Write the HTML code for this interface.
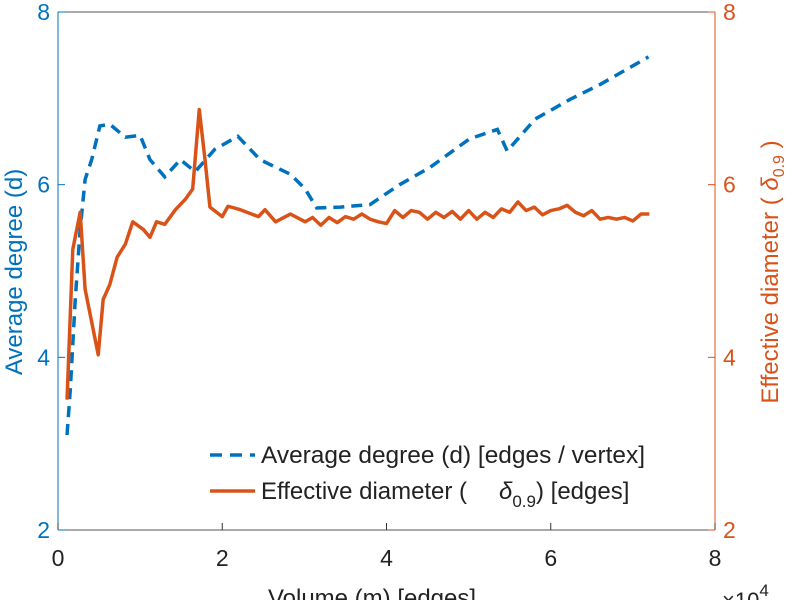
<!DOCTYPE html>
<html><head><meta charset="utf-8"><style>
body{margin:0;background:#fff;}
svg text{font-family:"Liberation Sans",sans-serif;}
</style></head><body>
<svg id="chart" width="795" height="600" xmlns="http://www.w3.org/2000/svg">
<g id="axes"></g>
<g id="series"></g>
<g>
 <line x1="210" y1="455" x2="255" y2="455" stroke="#0072BD" stroke-width="3.5" stroke-dasharray="12,8"/>
 <text x="261" y="463" font-size="24" textLength="384" lengthAdjust="spacingAndGlyphs" fill="#222">Average degree (d) [edges / vertex]</text>
 <line x1="210" y1="491" x2="255" y2="491" stroke="#D95319" stroke-width="3.5"/>
 <text x="261" y="499" font-size="24" textLength="206" lengthAdjust="spacingAndGlyphs" fill="#222">Effective diameter (</text>
 <text x="499" y="499" font-size="24" fill="#222" font-style="italic">δ<tspan font-size="17" font-style="normal" dy="8">0.9</tspan><tspan font-style="normal" dy="-8">) [edges]</tspan></text>
</g>
<text x="372" y="606" font-size="24" fill="#222" text-anchor="middle">Volume (m) [edges]</text>
<text x="722" y="608" font-size="22" fill="#222">×10<tspan font-size="17" dy="-12">4</tspan></text>
<text transform="translate(22,272) rotate(-90)" font-size="24" fill="#0072BD" text-anchor="middle">Average degree (d)</text>
<text transform="translate(778,272) rotate(-90)" font-size="24" fill="#D95319" text-anchor="middle">Effective diameter (     <tspan font-style="italic">δ</tspan><tspan font-size="16" dy="6">0.9</tspan><tspan dy="-6"> )</tspan></text>
</svg>
<script>
const xTicks=[0,2,4,6,8];
const yTicks=[2,4,6,8];
const degX=[0.11,0.15,0.21,0.27,0.33,0.41,0.51,0.63,0.82,1.0,1.12,1.30,1.49,1.67,1.91,2.19,2.46,2.83,3.01,3.15,3.44,3.80,4.16,4.53,5.01,5.35,5.47,5.81,6.24,6.60,7.19];
const degY=[3.10,3.63,4.67,5.48,6.06,6.29,6.68,6.70,6.55,6.57,6.29,6.09,6.29,6.15,6.41,6.56,6.29,6.12,5.95,5.73,5.74,5.77,6.0,6.2,6.53,6.64,6.39,6.76,6.99,7.16,7.48];
const diaX=[0.11,0.18,0.27,0.33,0.49,0.55,0.63,0.72,0.82,0.91,1.04,1.12,1.20,1.30,1.43,1.55,1.64,1.72,1.79,1.85,2.0,2.07,2.22,2.44,2.52,2.65,2.83,3.01,3.1,3.2,3.3,3.4,3.5,3.6,3.7,3.8,3.9,4.0,4.1,4.2,4.3,4.4,4.5,4.6,4.7,4.8,4.9,5.0,5.1,5.2,5.3,5.4,5.5,5.6,5.7,5.8,5.9,6.0,6.1,6.2,6.3,6.4,6.5,6.6,6.7,6.8,6.9,7.0,7.1,7.2];
const diaY=[3.51,5.25,5.68,4.79,4.03,4.67,4.84,5.16,5.31,5.57,5.48,5.39,5.57,5.54,5.71,5.83,5.95,6.87,6.29,5.74,5.63,5.75,5.71,5.63,5.71,5.57,5.66,5.57,5.62,5.53,5.62,5.56,5.63,5.60,5.66,5.60,5.57,5.55,5.70,5.62,5.70,5.68,5.60,5.68,5.62,5.69,5.60,5.70,5.60,5.68,5.62,5.72,5.68,5.80,5.70,5.74,5.65,5.70,5.72,5.76,5.68,5.64,5.70,5.60,5.62,5.60,5.62,5.58,5.66,5.66];
const X0=58,X1=715,Y0=530,Y1=12;
const sx=v=>X0+(v-0)/8*(X1-X0);
const sy=v=>Y0-(v-2)/6*(Y0-Y1);
const NS="http://www.w3.org/2000/svg";
const axes=document.getElementById('axes'),series=document.getElementById('series');
function mk(tag,attrs,parent){const e=document.createElementNS(NS,tag);for(const k in attrs)e.setAttribute(k,attrs[k]);parent.appendChild(e);return e;}
let e;
e=mk('line',{x1:X0,y1:Y1,x2:X1,y2:Y1,stroke:'#555','stroke-width':1},axes);


e=mk('line',{x1:X0,y1:Y0,x2:X1,y2:Y0,stroke:'#555','stroke-width':1},axes);


e=mk('line',{x1:X0,y1:Y0,x2:X0,y2:Y1,stroke:'#0072BD','stroke-width':1},axes);


e=mk('line',{x1:X1,y1:Y0,x2:X1,y2:Y1,stroke:'#D95319','stroke-width':1},axes);


xTicks.forEach(t=>{
 e=mk('line',{x1:sx(t),y1:Y0,x2:sx(t),y2:Y0-7,stroke:'#333'},axes);
 
 
 e=mk('text',{x:sx(t),y:Y0+36,'font-size':23,fill:'#222','text-anchor':'middle'},axes);e.textContent=t;
 
 
});
yTicks.forEach(t=>{
 e=mk('line',{x1:X0,y1:sy(t),x2:X0+7,y2:sy(t),stroke:'#0072BD'},axes);
 
 
 e=mk('text',{x:X0-8,y:sy(t)+8,'font-size':23,fill:'#0072BD','text-anchor':'end'},axes);e.textContent=t;
 
 
 e=mk('line',{x1:X1,y1:sy(t),x2:X1-7,y2:sy(t),stroke:'#D95319'},axes);
 
 
 e=mk('text',{x:X1+8,y:sy(t)+8,'font-size':23,fill:'#D95319'},axes);e.textContent=t;
 
 
});
e=mk('polyline',{points:degX.map((x,i)=>sx(x)+','+sy(degY[i])).join(' '),fill:'none',stroke:'#0072BD','stroke-width':3.5,'stroke-dasharray':'11,7'},series);


e=mk('polyline',{points:diaX.map((x,i)=>sx(x)+','+sy(diaY[i])).join(' '),fill:'none',stroke:'#D95319','stroke-width':3.5,'stroke-linejoin':'round'},series);


</script>
</body></html>
